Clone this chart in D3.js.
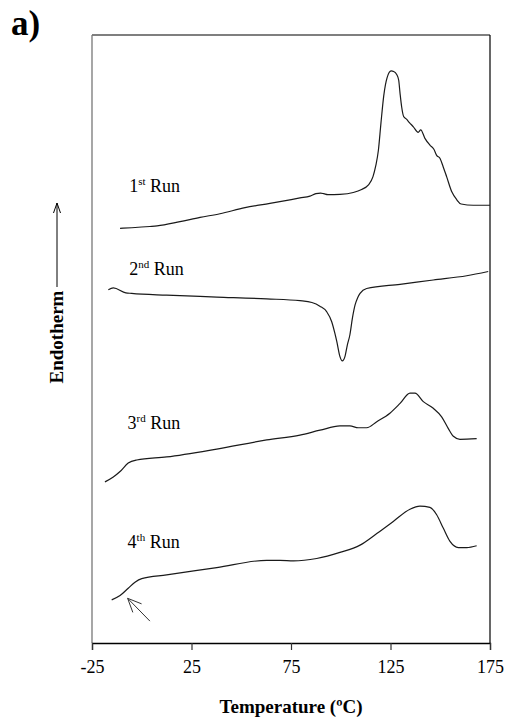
<!DOCTYPE html>
<html>
<head>
<meta charset="utf-8">
<script src="https://cdn.jsdelivr.net/npm/d3@7"></script>
<style>
  html, body { margin: 0; padding: 0; background: #fff; }
  svg { display: block; }
  text { font-family: "Liberation Serif", "Times New Roman", serif; fill: #000; }
</style>
</head>
<body>
<svg id="chart" width="509" height="718"></svg>
<script>
// DSC heating/cooling runs: [temperature (°C), heat flow (arb. units, endotherm up)]
const run1 = [
  [-10.9,68.2],[-5.0,68.3],[4.1,68.5],[7.7,68.6],[19.2,69.3],[29.3,70.0],[39.3,70.6],
  [51.9,71.6],[64.4,72.3],[79.5,73.2],[84.5,73.5],[87.5,73.9],[89.9,74.0],[91.5,73.9],
  [93.5,73.75],[99.6,73.8],[106.3,74.1],[110.5,74.6],[113.8,75.3],[116.2,76.7],[117.6,78.5],
  [118.9,81.0],[120.2,85.5],[121.6,90.0],[123.3,93.0],[125.3,94.1],[126.6,94.0],[128.1,93.5],
  [129.1,92.6],[129.8,90.4],[130.6,88.2],[131.6,86.6],[132.9,86.2],[134.5,85.6],
  [136.5,84.9],[138.9,84.0],[140.2,84.4],[142.3,83.0],[144.8,81.9],[146.8,81.2],
  [148.2,80.2],[149.9,79.7],[151.5,78.3],[153.2,76.7],[155.8,74.2],[158.3,72.9],
  [160.5,72.2],[166.6,72.0],[175.0,72.0]
];
const run2 = [
  [-16.8,58.1],[-14.3,58.4],[-8.0,57.6],[-5.1,57.5],[12.5,57.2],[37.7,56.9],[62.8,56.6],
  [79.5,56.3],[85.5,56.0],[89.5,55.4],[92.9,54.5],[95.5,52.8],[97.0,51.0],[98.0,49.6],
  [99.6,47.1],[100.8,46.4],[102.1,47.1],[103.3,49.0],[104.6,50.7],[105.9,53.5],
  [107.2,55.6],[108.5,56.8],[109.7,57.5],[113.0,58.3],[129.8,59.0],[146.5,59.7],
  [163.3,60.4],[174.1,61.1]
];
const run3 = [
  [-18.5,26.5],[-14.3,27.3],[-10.9,28.2],[-6.8,29.6],[-2.5,30.1],[12.5,30.6],[37.7,31.9],
  [62.8,33.4],[79.5,34.2],[89.6,35.0],[99.6,35.7],[104.6,35.7],[108.8,35.4],[113.0,35.4],
  [118.1,36.4],[124.7,37.8],[129.8,39.4],[134.8,41.1],[137.3,41.1],[141.5,39.7],
  [146.5,38.6],[150.7,37.2],[154.0,35.3],[156.6,34.0],[159.9,33.5],[168.3,33.6]
];
const run4 = [
  [-15.1,7.1],[-10.9,7.8],[-6.8,9.0],[-3.4,10.0],[0.0,10.6],[12.5,11.2],[37.7,12.4],
  [62.8,13.6],[69.5,13.6],[76.2,13.5],[87.9,13.9],[99.6,14.9],[109.7,16.1],[118.1,18.0],
  [126.4,20.0],[134.8,22.0],[139.8,22.5],[144.8,22.3],[148.2,21.1],[151.5,18.9],
  [154.9,16.7],[159.1,15.7],[163.3,15.7],[168.3,16.0]
];

// Run labels: ordinal, suffix, anchor point [temperature, heat flow]
const runLabels = [
  { n: "1", sup: "st", at: [-6.3, 74.2] },
  { n: "2", sup: "nd", at: [-6.3, 60.6] },
  { n: "3", sup: "rd", at: [-7.1, 35.2] },
  { n: "4", sup: "th", at: [-7.1, 15.6] }
];

// Glass-transition marker arrow (tail -> tip)
const tgArrow = { from: [4.1, 3.6], to: [-7.1, 7.35] };

const xTicks = [-25, 25, 75, 125, 175];
const xDomain = [-25, 175];
const yDomain = [0, 100];

const svg = d3.select("#chart");
const margin = { left: 92, right: 19, top: 35, bottom: 75 };
const W = 509, H = 718;
const x = d3.scaleLinear().domain(xDomain).range([margin.left, W - margin.right]);
const y = d3.scaleLinear().domain(yDomain).range([H - margin.bottom, margin.top]);

// Frame
svg.append("line").attr("x1", x(175)).attr("x2", x(175)).attr("y1", y(100)).attr("y2", y(0))
  .attr("stroke", "#000").attr("stroke-width", 1.2);
svg.append("line").attr("x1", x(-25)).attr("x2", x(175)).attr("y1", y(100)).attr("y2", y(100))
  .attr("stroke", "#000").attr("stroke-width", 1.2);
svg.append("line").attr("x1", x(-25)).attr("x2", x(-25)).attr("y1", y(100)).attr("y2", y(0))
  .attr("stroke", "#777").attr("stroke-width", 1.3);

// X axis (plain hyphen for negative labels)
const xAxis = d3.axisBottom(x).tickValues(xTicks).tickSize(7).tickPadding(10)
  .tickFormat(d => String(d));
const gx = svg.append("g").attr("transform", `translate(0,${y(0)})`).call(xAxis);
gx.select(".domain").attr("stroke", "#000").attr("stroke-width", 1.3);
gx.selectAll(".tick line").attr("stroke", "#333").attr("stroke-width", 1.2);
gx.selectAll(".tick text")
  .attr("font-family", "Liberation Serif, Times New Roman, serif")
  .attr("font-size", 18).attr("fill", "#000");

svg.append("text").attr("x", (x(-25) + x(175)) / 2).attr("y", 713)
  .attr("text-anchor", "middle").attr("font-size", 19).attr("font-weight", "bold")
  .text("Temperature (ºC)");

// Y title with upward arrow
svg.append("text").attr("transform", "translate(63,337) rotate(-90)")
  .attr("text-anchor", "middle").attr("font-size", 19).attr("font-weight", "bold")
  .text("Endotherm");
svg.append("line").attr("x1", 57).attr("x2", 57).attr("y1", 287).attr("y2", 203)
  .attr("stroke", "#000").attr("stroke-width", 1);
svg.append("path").attr("d", "M53.5,213 L57,203 L60.5,213")
  .attr("fill", "none").attr("stroke", "#000").attr("stroke-width", 1);

// Panel tag
svg.append("text").attr("x", 11).attr("y", 35).attr("font-size", 35)
  .attr("font-weight", "bold").text("a)");

// Curves
const line = d3.line().x(d => x(d[0])).y(d => y(d[1])).curve(d3.curveMonotoneX);
[run1, run2, run3, run4].forEach(run => {
  svg.append("path").datum(run).attr("d", line)
    .attr("fill", "none").attr("stroke", "#1a1a1a").attr("stroke-width", 1.2);
});

// Run labels
runLabels.forEach(l => {
  const t = svg.append("text").attr("x", x(l.at[0])).attr("y", y(l.at[1])).attr("font-size", 18);
  t.append("tspan").text(l.n);
  t.append("tspan").attr("font-size", 11).attr("dy", -7).text(l.sup);
  t.append("tspan").attr("dy", 7).text(" Run");
});

// Open arrow pointing at the glass transition of the 4th run
const ax0 = x(tgArrow.from[0]), ay0 = y(tgArrow.from[1]);
const ax1 = x(tgArrow.to[0]), ay1 = y(tgArrow.to[1]);
svg.append("line").attr("x1", ax0).attr("y1", ay0).attr("x2", ax1).attr("y2", ay1)
  .attr("stroke", "#333").attr("stroke-width", 1);
const ang = Math.atan2(ay0 - ay1, ax0 - ax1), headLen = 15, spread = 0.42;
const head = [ang - spread, ang + spread].map(a => [ax1 + headLen * Math.cos(a), ay1 + headLen * Math.sin(a)]);
svg.append("path")
  .attr("d", `M${head[0][0]},${head[0][1]} L${ax1},${ay1} L${head[1][0]},${head[1][1]}`)
  .attr("fill", "none").attr("stroke", "#333").attr("stroke-width", 1);
</script>
</body>
</html>
